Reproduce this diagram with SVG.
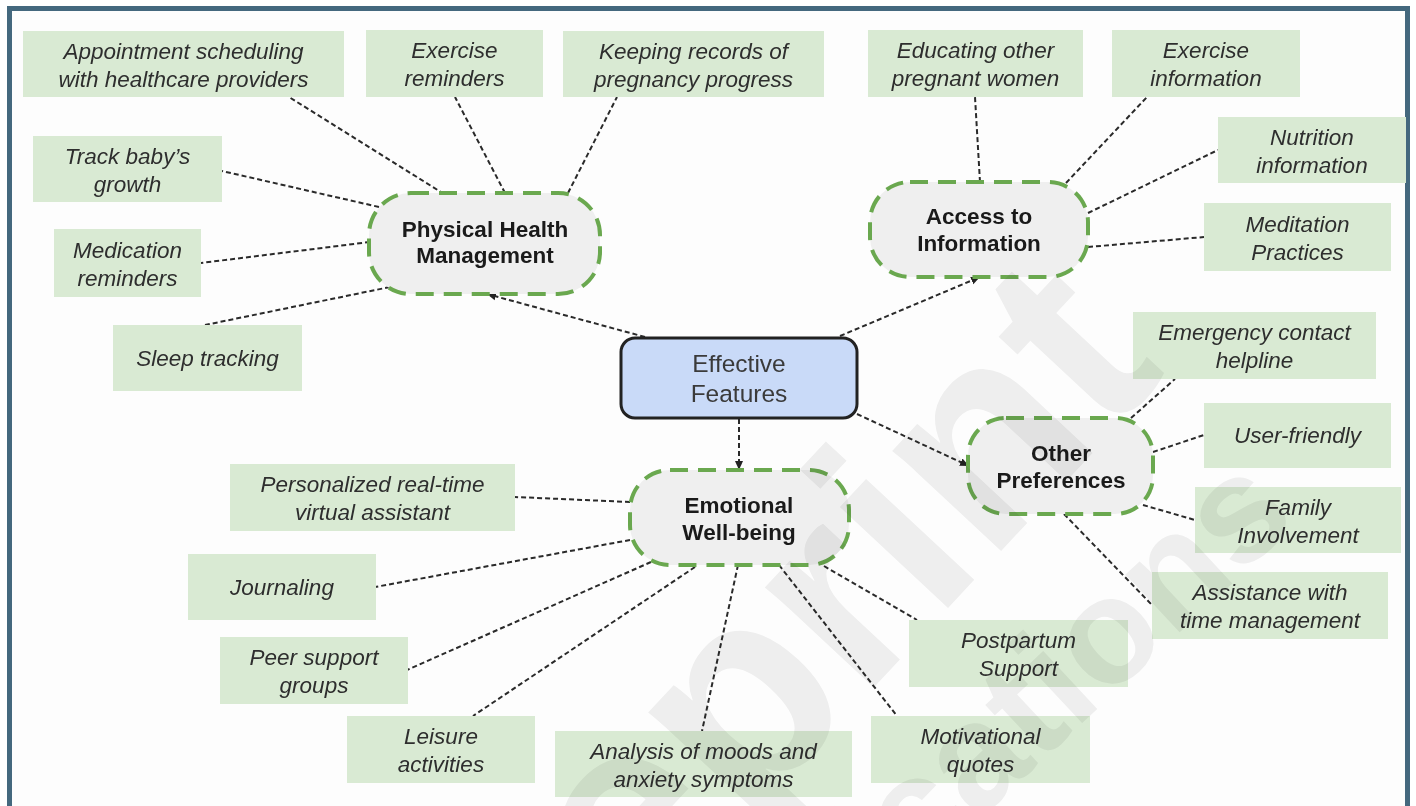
<svg xmlns="http://www.w3.org/2000/svg" width="1416" height="806" viewBox="0 0 1416 806">
  <defs>
    <marker id="arrow" markerUnits="userSpaceOnUse" markerWidth="10" markerHeight="10" refX="9" refY="5" orient="auto">
      <path d="M0,1 L9,5 L0,9 z" fill="#222"/>
    </marker>
    <style>
      .leaf rect { fill: #d9ead3; }
      .leaf text { font-family: "Liberation Sans", Arial, sans-serif; font-style: italic; font-size: 22.5px; fill: #2e2e2e; text-anchor: middle; }
      .cat rect { fill: #efefef; stroke: #6aa84f; stroke-width: 4; stroke-dasharray: 18 10; }
      .cat text { font-family: "Liberation Sans", Arial, sans-serif; font-weight: bold; font-size: 22.5px; fill: #1a1a1a; text-anchor: middle; }
      .hub rect { fill: #c9daf8; stroke: #222; stroke-width: 3; }
      .hub text { font-family: "Liberation Sans", Arial, sans-serif; font-size: 24.5px; fill: #3a3a3a; text-anchor: middle; }
      .link { stroke: #2a2a2a; stroke-width: 2; stroke-dasharray: 5 3; fill: none; }
      .wm { font-family: "Liberation Sans", Arial, sans-serif; font-weight: bold; fill: #f0f0f0; mix-blend-mode: multiply; }
    </style>
  </defs>

  <rect x="0" y="0" width="1416" height="806" fill="#fff"/>
  <!-- frame -->
  <rect x="9.5" y="8.5" width="1398" height="830" fill="#fdfdfd" stroke="#44687e" stroke-width="5"/>

  <!-- connectors -->
  <g id="connectors">
    <!-- hub to categories -->
    <line class="link" x1="645" y1="337" x2="487" y2="294" marker-end="url(#arrow)"/>
    <line class="link" x1="840" y1="336" x2="980" y2="277" marker-end="url(#arrow)"/>
    <line class="link" x1="739" y1="419" x2="739" y2="470" marker-end="url(#arrow)"/>
    <line class="link" x1="857" y1="414" x2="969" y2="466" marker-end="url(#arrow)"/>
    <!-- physical health -->
    <line class="link" x1="444" y1="194" x2="289" y2="97"/>
    <line class="link" x1="505" y1="193" x2="455" y2="97"/>
    <line class="link" x1="568" y1="193" x2="617" y2="97"/>
    <line class="link" x1="379" y1="207" x2="222" y2="171"/>
    <line class="link" x1="370" y1="242" x2="201" y2="263"/>
    <line class="link" x1="390" y1="287" x2="205" y2="325"/>
    <!-- access to information -->
    <line class="link" x1="980" y1="182" x2="975" y2="97"/>
    <line class="link" x1="1066" y1="183" x2="1147" y2="97"/>
    <line class="link" x1="1088" y1="213" x2="1218" y2="150"/>
    <line class="link" x1="1088" y1="247" x2="1204" y2="237"/>
    <!-- other preferences -->
    <line class="link" x1="1131" y1="418" x2="1175" y2="379"/>
    <line class="link" x1="1153" y1="452" x2="1204" y2="435"/>
    <line class="link" x1="1143" y1="505" x2="1195" y2="520"/>
    <line class="link" x1="1064" y1="514" x2="1152" y2="605"/>
    <!-- emotional well-being -->
    <line class="link" x1="630" y1="502" x2="515" y2="497"/>
    <line class="link" x1="630" y1="540" x2="375" y2="587"/>
    <line class="link" x1="651" y1="562" x2="407" y2="670"/>
    <line class="link" x1="695" y1="567" x2="473" y2="716"/>
    <line class="link" x1="738" y1="565" x2="702" y2="731"/>
    <line class="link" x1="779" y1="565" x2="897" y2="716"/>
    <line class="link" x1="824" y1="566" x2="917" y2="620"/>
  </g>

  <!-- central node -->
  <g id="hub" class="hub">
    <rect x="621" y="338" width="236" height="80" rx="14"/>
    <text><tspan x="739" y="372">Effective</tspan><tspan x="739" y="402">Features</tspan></text>
  </g>

  <!-- category nodes -->
  <g id="cat-physical" class="cat">
    <rect x="369" y="193" width="231" height="101" rx="42"/>
    <text><tspan x="485" y="237">Physical Health</tspan><tspan x="485" y="263">Management</tspan></text>
  </g>
  <g id="cat-access" class="cat">
    <rect x="870" y="182" width="218" height="95" rx="40"/>
    <text><tspan x="979" y="224">Access to</tspan><tspan x="979" y="251">Information</tspan></text>
  </g>
  <g id="cat-emotional" class="cat">
    <rect x="630" y="470" width="219" height="95" rx="40"/>
    <text><tspan x="739" y="513">Emotional</tspan><tspan x="739" y="540">Well-being</tspan></text>
  </g>
  <g id="cat-other" class="cat">
    <rect x="968" y="418" width="185" height="96" rx="38"/>
    <text><tspan x="1061" y="461">Other</tspan><tspan x="1061" y="488">Preferences</tspan></text>
  </g>

  <!-- leaf nodes: physical health -->
  <g id="leaf-appointment" class="leaf">
    <rect x="23" y="31" width="321" height="66"/>
    <text><tspan x="183.5" y="59">Appointment scheduling</tspan><tspan x="183.5" y="87">with healthcare providers</tspan></text>
  </g>
  <g id="leaf-exercise-reminders" class="leaf">
    <rect x="366" y="30" width="177" height="67"/>
    <text><tspan x="454.5" y="58">Exercise</tspan><tspan x="454.5" y="86">reminders</tspan></text>
  </g>
  <g id="leaf-records" class="leaf">
    <rect x="563" y="31" width="261" height="66"/>
    <text><tspan x="693.5" y="59">Keeping records of</tspan><tspan x="693.5" y="87">pregnancy progress</tspan></text>
  </g>
  <g id="leaf-growth" class="leaf">
    <rect x="33" y="136" width="189" height="66"/>
    <text><tspan x="127.5" y="164">Track baby’s</tspan><tspan x="127.5" y="192">growth</tspan></text>
  </g>
  <g id="leaf-medication" class="leaf">
    <rect x="54" y="229" width="147" height="68"/>
    <text><tspan x="127.5" y="258">Medication</tspan><tspan x="127.5" y="286">reminders</tspan></text>
  </g>
  <g id="leaf-sleep" class="leaf">
    <rect x="113" y="325" width="189" height="66"/>
    <text x="207.5" y="366">Sleep tracking</text>
  </g>

  <!-- leaf nodes: access to information -->
  <g id="leaf-educating" class="leaf">
    <rect x="868" y="30" width="215" height="67"/>
    <text><tspan x="975.5" y="58">Educating other</tspan><tspan x="975.5" y="86">pregnant women</tspan></text>
  </g>
  <g id="leaf-exercise-info" class="leaf">
    <rect x="1112" y="30" width="188" height="67"/>
    <text><tspan x="1206" y="58">Exercise</tspan><tspan x="1206" y="86">information</tspan></text>
  </g>
  <g id="leaf-nutrition" class="leaf">
    <rect x="1218" y="117" width="188" height="66"/>
    <text><tspan x="1312" y="145">Nutrition</tspan><tspan x="1312" y="173">information</tspan></text>
  </g>
  <g id="leaf-meditation" class="leaf">
    <rect x="1204" y="203" width="187" height="68"/>
    <text><tspan x="1297.5" y="232">Meditation</tspan><tspan x="1297.5" y="260">Practices</tspan></text>
  </g>

  <!-- leaf nodes: other preferences -->
  <g id="leaf-emergency" class="leaf">
    <rect x="1133" y="312" width="243" height="67"/>
    <text><tspan x="1254.5" y="340">Emergency contact</tspan><tspan x="1254.5" y="368">helpline</tspan></text>
  </g>
  <g id="leaf-user-friendly" class="leaf">
    <rect x="1204" y="403" width="187" height="65"/>
    <text x="1297.5" y="443">User-friendly</text>
  </g>
  <g id="leaf-family" class="leaf">
    <rect x="1195" y="487" width="206" height="66"/>
    <text><tspan x="1298" y="515">Family</tspan><tspan x="1298" y="543">Involvement</tspan></text>
  </g>
  <g id="leaf-time" class="leaf">
    <rect x="1152" y="572" width="236" height="67"/>
    <text><tspan x="1270" y="600">Assistance with</tspan><tspan x="1270" y="628">time management</tspan></text>
  </g>

  <!-- leaf nodes: emotional well-being -->
  <g id="leaf-assistant" class="leaf">
    <rect x="230" y="464" width="285" height="67"/>
    <text><tspan x="372.5" y="492">Personalized real-time</tspan><tspan x="372.5" y="520">virtual assistant</tspan></text>
  </g>
  <g id="leaf-journaling" class="leaf">
    <rect x="188" y="554" width="188" height="66"/>
    <text x="282" y="595">Journaling</text>
  </g>
  <g id="leaf-peer" class="leaf">
    <rect x="220" y="637" width="188" height="67"/>
    <text><tspan x="314" y="665">Peer support</tspan><tspan x="314" y="693">groups</tspan></text>
  </g>
  <g id="leaf-leisure" class="leaf">
    <rect x="347" y="716" width="188" height="67"/>
    <text><tspan x="441" y="744">Leisure</tspan><tspan x="441" y="772">activities</tspan></text>
  </g>
  <g id="leaf-moods" class="leaf">
    <rect x="555" y="731" width="297" height="66"/>
    <text><tspan x="703.5" y="759">Analysis of moods and</tspan><tspan x="703.5" y="787">anxiety symptoms</tspan></text>
  </g>
  <g id="leaf-quotes" class="leaf">
    <rect x="871" y="716" width="219" height="67"/>
    <text><tspan x="980.5" y="744">Motivational</tspan><tspan x="980.5" y="772">quotes</tspan></text>
  </g>
  <g id="leaf-postpartum" class="leaf">
    <rect x="909" y="620" width="219" height="67"/>
    <text><tspan x="1018.5" y="648">Postpartum</tspan><tspan x="1018.5" y="676">Support</tspan></text>
  </g>

  <!-- diagonal watermark, multiplied over the drawing -->
  <g id="watermark">
    <text class="wm" font-size="280" text-anchor="end" transform="translate(1168,372) rotate(-47)">Preprint</text>
    <text class="wm" font-size="150" text-anchor="end" transform="translate(1300,520) rotate(-43)">Publications</text>
  </g>
</svg>
